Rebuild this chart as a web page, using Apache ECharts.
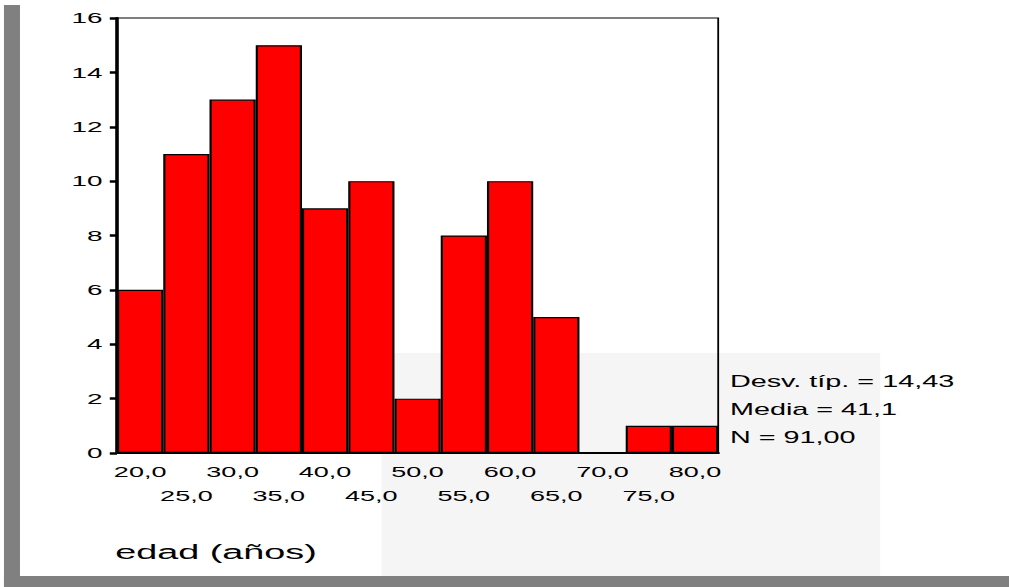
<!DOCTYPE html>
<html>
<head>
<meta charset="utf-8">
<script src="https://cdn.jsdelivr.net/npm/echarts@6/dist/echarts.min.js"></script>
<style>
  html, body { margin: 0; padding: 0; background: #fff; overflow: hidden; }
  /* the original picture is stretched sideways, so draw narrow and stretch */
  #main { width: 560.6px; height: 587px; transform: scaleX(1.8); transform-origin: 0 0; }
</style>
</head>
<body>
<div id="main"></div>
<script>
const binLabels = ["20,0", "25,0", "30,0", "35,0", "40,0", "45,0", "50,0", "55,0", "60,0", "65,0", "70,0", "75,0", "80,0"];
const counts = [6, 11, 13, 15, 9, 10, 2, 8, 10, 5, 0, 1, 1];
const yTicks = [0, 2, 4, 6, 8, 10, 12, 14, 16];
const statLines = ["Desv. típ. = 14,43", "Media = 41,1", "N = 91,00"];
const axisTitle = "edad (años)";

const FONT = "'Liberation Sans', Arial, sans-serif";

const chart = echarts.init(document.getElementById("main"), null, { renderer: "svg" });

const option = {
  animation: false,
  backgroundColor: "#fff",
  textStyle: { fontFamily: FONT },
  grid: {
    left: 65,
    top: 18,
    width: 334,
    height: 435,
    show: true,
    backgroundColor: "transparent",
    borderColor: "#000",
    borderWidth: 1,
  },
  xAxis: {
    type: "category",
    data: binLabels,
    boundaryGap: true,
    axisLine: { lineStyle: { color: "#000", width: 2 } },
    axisTick: { alignWithLabel: true, length: 2, lineStyle: { color: "#000", width: 3.5 } },
    axisLabel: {
      interval: 0,
      margin: 7,
      color: "#000",
      fontSize: 15,
      fontFamily: FONT,
      lineHeight: 24,
      verticalAlign: "top",
      formatter: (v, i) => (i % 2 === 0 ? v : "\n" + v),
    },
  },
  yAxis: {
    type: "value",
    min: yTicks[0],
    max: yTicks[yTicks.length - 1],
    interval: 2,
    splitLine: { show: false },
    axisLine: { show: true, lineStyle: { color: "#000", width: 2 } },
    axisTick: { show: true, length: 4, lineStyle: { color: "#000", width: 2.5 } },
    axisLabel: { margin: 8, color: "#000", fontSize: 15.5, fontFamily: FONT },
  },
  series: [
    {
      type: "bar",
      data: counts,
      barWidth: "100%",
      barCategoryGap: 0,
      itemStyle: { color: "#ff0000", borderColor: "#000", borderWidth: 1.2 },
      z: 3,
    },
  ],
  graphic: [
    // faint watermark patch behind the lower right
    { type: "rect", z: -10, silent: true, shape: { x: 212, y: 353, width: 277, height: 223 }, style: { fill: "#f5f5f5" } },
    // grey frame on the left and bottom
    { type: "rect", z: 10, silent: true, shape: { x: 2.2, y: 5, width: 8.9, height: 582 }, style: { fill: "#808080" } },
    { type: "rect", z: 10, silent: true, shape: { x: 2.2, y: 576, width: 560, height: 11 }, style: { fill: "#808080" } },
    ...statLines.map((t, i) => ({
      type: "text",
      z: 10,
      left: 405.5,
      top: 374 + i * 27.8,
      style: { text: t, fill: "#000", font: "16px " + FONT },
    })),
    { type: "text", z: 10, left: 64, top: 541, style: { text: axisTitle, fill: "#000", font: "21px " + FONT } },
  ],
};

chart.setOption(option);
</script>
</body>
</html>
